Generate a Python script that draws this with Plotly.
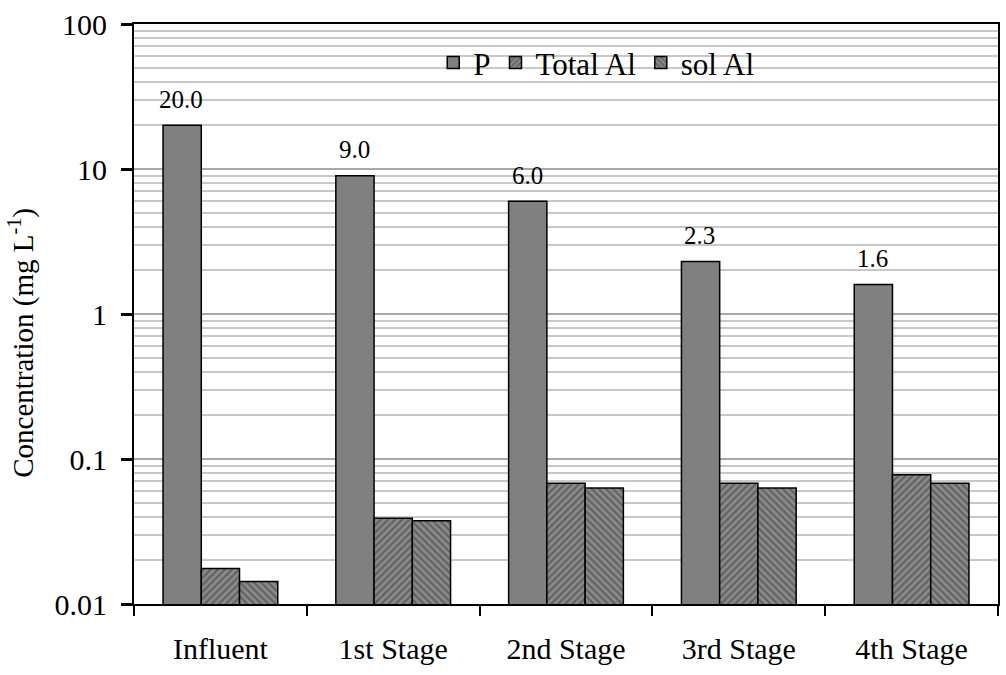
import math
import plotly.graph_objects as go

categories = ["Influent", "1st Stage", "2nd Stage", "3rd Stage", "4th Stage"]
p_values = [20.0, 9.0, 6.0, 2.3, 1.6]
total_al = [0.0176, 0.039, 0.068, 0.068, 0.078]
sol_al = [0.0143, 0.0375, 0.063, 0.063, 0.068]
y_tickvals = [0.01, 0.1, 1, 10, 100]
y_ticktext = ["0.01", "0.1", "1", "10", "100"]
y_title = "Concentration (mg L<sup>-1</sup>)"

FONT = "Liberation Serif"

fig = go.Figure()
fig.add_trace(go.Bar(
    name="P", x=categories, y=p_values,
    marker=dict(color="#808080", line=dict(color="black", width=1.5)),
))
fig.add_trace(go.Bar(
    name="Total Al", x=categories, y=total_al,
    marker=dict(color="#808080", line=dict(color="black", width=1.5),
                pattern=dict(shape="/", fgcolor="#3a3a3a", bgcolor="#8a8a8a",
                             size=5, solidity=0.45)),
))
fig.add_trace(go.Bar(
    name="sol Al", x=categories, y=sol_al,
    marker=dict(color="#808080", line=dict(color="black", width=1.5),
                pattern=dict(shape="\\", fgcolor="#3a3a3a", bgcolor="#8a8a8a",
                             size=5, solidity=0.45)),
))

for c, v in zip(categories, p_values):
    fig.add_annotation(x=c, y=math.log10(v), text=f"{v:.1f}", showarrow=False,
                       xref="x", yref="y", xshift=-39, yshift=26,
                       yanchor="middle", font=dict(family=FONT, size=25, color="black"))

fig.add_annotation(x=-0.131, y=0.45, xref="paper", yref="paper", text=y_title,
                   textangle=-90, showarrow=False, xanchor="center", yanchor="middle",
                   font=dict(family=FONT, size=29, color="black"))

fig.update_layout(
    width=1006, height=675,
    margin=dict(l=134, r=6, t=24, b=71),
    paper_bgcolor="white", plot_bgcolor="white",
    barmode="group", bargap=0.336, bargroupgap=0,
    font=dict(family=FONT, color="black", size=28),
    showlegend=True,
    legend=dict(orientation="h", x=0.535, xanchor="center", y=0.933, yanchor="middle",
                bgcolor="rgba(0,0,0,0)", font=dict(family=FONT, size=31, color="black"),
                itemwidth=30, traceorder="normal"),
)
fig.update_yaxes(
    type="log", range=[-2, 2],
    tickmode="array", tickvals=y_tickvals, ticktext=y_ticktext,
    ticks="outside", ticklen=11, tickwidth=3, tickcolor="black",
    showline=True, linecolor="black", linewidth=2, mirror=True,
    showgrid=True, gridcolor="#a8a8a8", gridwidth=1.5,
    minor=dict(dtick="D1", showgrid=True, gridcolor="#c8c8c8", gridwidth=1.5, ticks=""),
    tickfont=dict(family=FONT, size=30, color="black"),
    ticklabelstandoff=8,
    zeroline=False,
)
fig.update_xaxes(
    type="category", tickson="boundaries",
    ticks="outside", ticklen=10, tickwidth=2, tickcolor="black",
    showline=True, linecolor="black", linewidth=2, mirror=True,
    showgrid=False,
    tickfont=dict(family=FONT, size=30, color="black"),
    ticklabelstandoff=17,
)

fig.write_html("out.html")
